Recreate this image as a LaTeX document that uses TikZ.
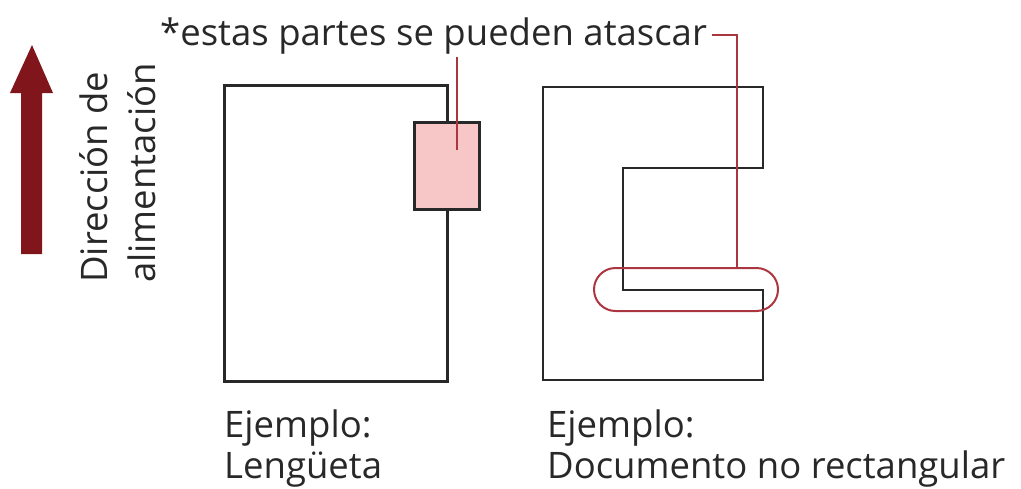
\documentclass[tikz,border=0pt]{standalone}
\usepackage{fontspec}
\setmainfont{Open Sans}
\usetikzlibrary{positioning}
\definecolor{feedred}{RGB}{128,22,27}
\definecolor{tabpink}{RGB}{247,198,198}
\definecolor{jamred}{RGB}{172,54,64}
\definecolor{inkgray}{RGB}{40,40,40}
\newcommand{\capfont}{\fontsize{36.5}{41}\selectfont}
\newcommand{\feedfont}{\fontsize{36.5}{48}\selectfont}
\tikzset{
  paper/.style={draw=inkgray, line width=2.5pt},
  jamline/.style={draw=jamred, line width=2pt},
  caption/.style={align=left, inner sep=0pt, font=\capfont, text=inkgray}
}

\begin{document}
\begin{tikzpicture}[x=1pt,y=-1pt]
      \useasboundingbox (0,0) rectangle (1021,488);
      % feed direction
      \fill[feedred] (21,254) -- (21,93) -- (10,93) -- (32,45) -- (53,93) -- (42,93) -- (42,254) -- cycle;
      \node[caption, font=\feedfont, rotate=90, anchor=north west] (feed) at (79,283) {Dirección de\\alimentación};
      % tab example
      \node[paper, minimum width=223pt, minimum height=296pt, anchor=north west] (sheet) at (223,84) {};
      \node[paper, fill=tabpink, minimum width=65pt, minimum height=87pt, anchor=north west] (tab) at (413,121) {};
      % non rectangular example
      \draw[paper] (543,380) -- (543,87) -- (763,87) -- (763,168) -- (623,168) -- (623,290) -- (763,290) -- (763,380) -- cycle;
      \node[jamline, rounded corners=21.5pt, minimum width=184pt, minimum height=43pt] (jam) at (686,289.5) {};
      % note
      \node[caption, anchor=base west] (note) at (160,45) {*estas partes se pueden atascar};
      \coordinate (tabtip) at (457,150);
      \coordinate (bend) at (737,35);
      \draw[jamline] (tabtip) -- ([yshift=-3pt]tabtip |- note.south);
      \draw[jamline] ([xshift=5pt]note.east |- bend) -- (bend) -- (bend |- jam.north);
      % captions
      \node[caption, anchor=north west] (capL) at (224,410) {Ejemplo:\\Lengüeta};
      \node[caption, anchor=north west] (capR) at (547,410) {Ejemplo:\\Documento no rectangular};
\end{tikzpicture}
\end{document}
